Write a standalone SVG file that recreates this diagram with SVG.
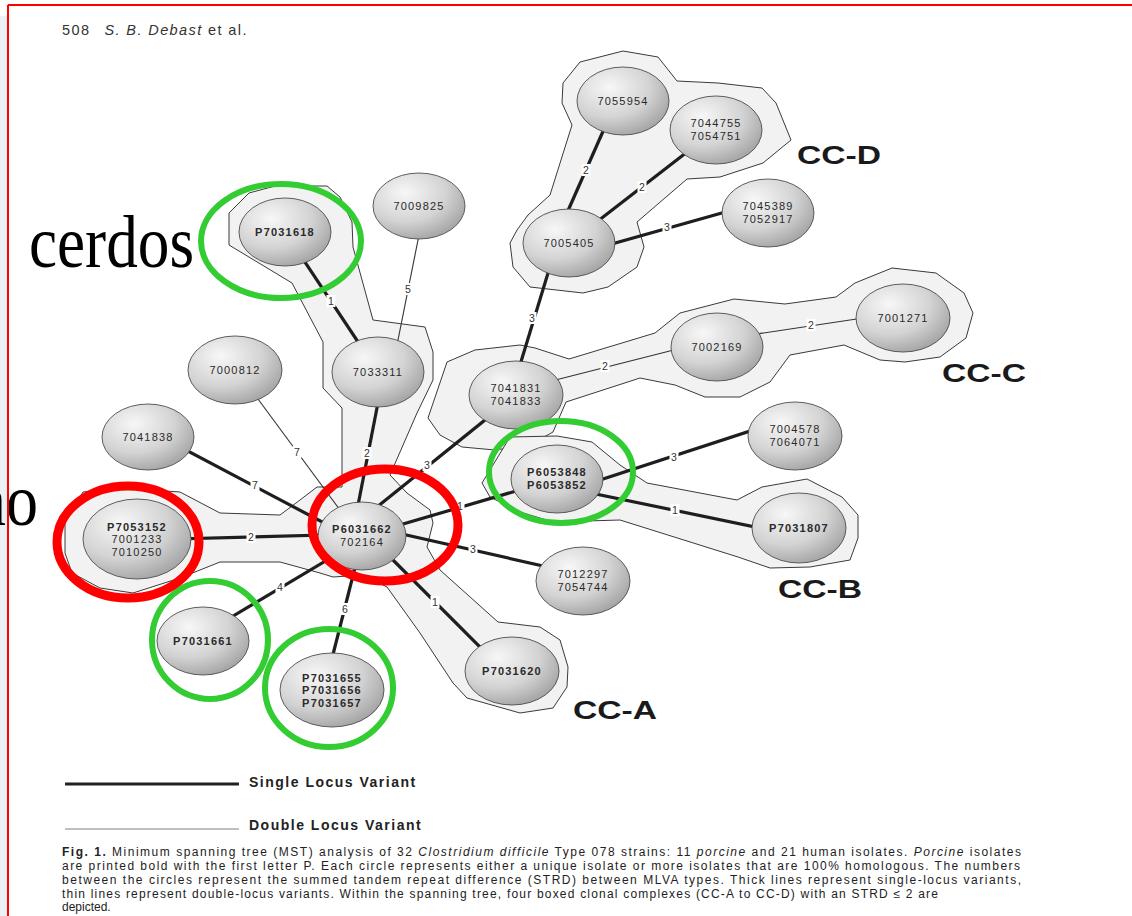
<svg xmlns="http://www.w3.org/2000/svg" width="1132" height="916" viewBox="0 0 1132 916">
<defs>
<radialGradient id="ng" cx="0.35" cy="0.3" r="0.8">
<stop offset="0" stop-color="#f7f7f7"/>
<stop offset="0.55" stop-color="#d3d3d3"/>
<stop offset="1" stop-color="#9c9c9c"/>
</radialGradient>
<style>
.hull{fill:#f2f2f2;stroke:#3a3a3a;stroke-width:1}
.thick{stroke:#1e1e1e;stroke-width:3.2;fill:none}
.thin{stroke:#333;stroke-width:1.1;fill:none}
.node ellipse{fill:url(#ng);stroke:#4d4d4d;stroke-width:0.9}
.node text{font-family:"Liberation Sans",Arial,sans-serif;font-size:11px;fill:#2a2a2a;letter-spacing:1.2px;text-anchor:middle}
.b{font-weight:bold}
.lb rect{fill:#fff}
.lb text{font-family:"Liberation Sans",Arial,sans-serif;font-size:10.5px;fill:#333;text-anchor:middle}
.cc{font-family:"Liberation Sans",Arial,sans-serif;font-size:25px;font-weight:bold;fill:#1a1a1a}
.green{fill:none;stroke:#33cc33;stroke-width:6}
.red{fill:none;stroke:#ff0000;stroke-width:9}
.cap{font-family:"Liberation Sans",Arial,sans-serif;font-size:12px;fill:#222}
.big{font-family:"Liberation Serif","Times New Roman",serif;font-size:74px;fill:#000}
</style>
</defs>
<rect width="1132" height="916" fill="#fff"/>
<rect x="0" y="16" width="8" height="900" fill="#eceff3"/>

<text x="62" y="35" font-family="Liberation Sans,Arial,sans-serif" font-size="14.5" fill="#333" letter-spacing="1.4">508<tspan dx="14" font-style="italic">S. B. Debast</tspan> et al.</text>

<g id="hulls">
<polygon id="cc-d-hull" class="hull" points="563,83 580,62 623,51 658,57 677,81 718,83 762,88 776,103 791,140 763,163 720,177 687,179 637,222 644,247 637,267 608,287 583,293 530,287 513,267 510,243 517,230 528,215 550,195 572,125 562,103"/>
<polygon id="cc-c-hull" class="hull" points="428,418 447,362 475,350 520,345 535,348 569,359 655,333 680,313 734,299 785,304 836,297 855,283 892,268 936,273 964,293 973,313 966,338 940,357 905,362 880,360 844,345 790,355 770,382 740,397 705,397 675,385 640,378 566,402 553,432 530,445 495,450 462,447 440,435"/>
<polygon id="cc-b-hull" class="hull" points="482,483 510,437 557,436 592,442 620,465 647,483 737,500 762,487 807,479 842,497 858,515 858,538 850,560 810,567 770,568 738,557 620,520 553,522 520,512 490,497"/>
<polygon id="cc-a-hull" class="hull" points="249,193 275,186 327,186 340,197 352,222 353,247 373,320 425,327 433,352 433,380 417,413 390,475 407,493 430,510 433,523 427,547 440,570 498,622 540,627 560,640 568,667 567,687 553,708 520,713 467,698 453,683 420,633 387,587 363,575 333,577 320,573 280,562 220,562 180,578 133,593 100,588 72,573 65,553 65,522 83,492 123,488 180,492 220,513 280,515 300,500 317,487 342,487 342,408 323,388 323,342 292,283 229,245 229,213"/>
</g>

<g id="connectors">
<line class="thick" x1="285" y1="232" x2="378" y2="372"/>
<line class="thin" x1="421" y1="225" x2="395" y2="355"/>
<line class="thick" x1="384" y1="372" x2="352" y2="536"/>
<line class="thin" x1="255" y1="395" x2="340" y2="510"/>
<line class="thick" x1="148" y1="430" x2="362" y2="543"/>
<line class="thick" x1="137" y1="540" x2="362" y2="534"/>
<line class="thick" x1="203" y1="634" x2="364" y2="538"/>
<line class="thick" x1="324" y1="690" x2="363" y2="536"/>
<line class="thick" x1="362" y1="529" x2="512" y2="679"/>
<line class="thick" x1="362" y1="525" x2="583" y2="575"/>
<line class="thick" x1="362" y1="536" x2="557" y2="479"/>
<line class="thick" x1="372" y1="511" x2="516" y2="395"/>
<line class="thick" x1="552" y1="260" x2="516" y2="378"/>
<line class="thin" x1="520" y1="389" x2="717" y2="339"/>
<line class="thin" x1="717" y1="340" x2="903" y2="312"/>
<line class="thick" x1="563" y1="222" x2="608" y2="120"/>
<line class="thick" x1="585" y1="231" x2="700" y2="142"/>
<line class="thick" x1="569" y1="256" x2="768" y2="200"/>
<line class="thick" x1="557" y1="494" x2="796" y2="416"/>
<line class="thick" x1="557" y1="486" x2="799" y2="536"/>
<g class="lb">
<rect x="326.5" y="295" width="9" height="12"/><text x="331" y="304.7">1</text>
<rect x="403.5" y="283" width="9" height="12"/><text x="408" y="292.7">5</text>
<rect x="362.5" y="447" width="9" height="12"/><text x="367" y="456.7">2</text>
<rect x="292.5" y="446" width="9" height="12"/><text x="297" y="455.7">7</text>
<rect x="250.5" y="479" width="9" height="12"/><text x="255" y="488.7">7</text>
<rect x="246.5" y="531" width="9" height="12"/><text x="251" y="540.7">2</text>
<rect x="275.5" y="581" width="9" height="12"/><text x="280" y="590.7">4</text>
<rect x="340.5" y="603" width="9" height="12"/><text x="345" y="612.7">6</text>
<rect x="430.5" y="596" width="9" height="12"/><text x="435" y="605.7">1</text>
<rect x="468.5" y="543" width="9" height="12"/><text x="473" y="552.7">3</text>
<rect x="455.5" y="500" width="9" height="12"/><text x="460" y="509.7">1</text>
<rect x="422.5" y="459" width="9" height="12"/><text x="427" y="468.7">3</text>
<rect x="527.5" y="312" width="9" height="12"/><text x="532" y="321.7">3</text>
<rect x="600.5" y="360" width="9" height="12"/><text x="605" y="369.7">2</text>
<rect x="806.5" y="319" width="9" height="12"/><text x="811" y="328.7">2</text>
<rect x="581.5" y="164" width="9" height="12"/><text x="586" y="173.7">2</text>
<rect x="637.5" y="181" width="9" height="12"/><text x="642" y="190.7">2</text>
<rect x="662.5" y="221" width="9" height="12"/><text x="667" y="230.7">3</text>
<rect x="669.5" y="451" width="9" height="12"/><text x="674" y="460.7">3</text>
<rect x="670.5" y="504" width="9" height="12"/><text x="675" y="513.7">1</text>
</g>
</g>

<g id="n-p7031618" class="node"><ellipse cx="285" cy="232" rx="46" ry="34"/><text class="b" x="285" y="236">P7031618</text></g>
<g id="n-7009825" class="node"><ellipse cx="419" cy="206" rx="46" ry="33"/><text x="419" y="210">7009825</text></g>
<g id="n-7033311" class="node"><ellipse cx="378" cy="372" rx="46" ry="35"/><text x="378" y="376">7033311</text></g>
<g id="n-7000812" class="node"><ellipse cx="235" cy="370" rx="47" ry="34"/><text x="235" y="374">7000812</text></g>
<g id="n-7041838" class="node"><ellipse cx="148" cy="437" rx="46" ry="33"/><text x="148" y="441">7041838</text></g>
<g id="n-p7053152" class="node"><ellipse cx="137" cy="539" rx="54" ry="40"/><text class="b" x="137" y="530.5">P7053152</text><text x="137" y="543">7001233</text><text x="137" y="555.5">7010250</text></g>
<g id="n-p6031662" class="node"><ellipse cx="362" cy="536" rx="44" ry="34"/><text class="b" x="362" y="533">P6031662</text><text x="362" y="545.5">702164</text></g>
<g id="n-p7031661" class="node"><ellipse cx="203" cy="641" rx="46" ry="34"/><text class="b" x="203" y="645">P7031661</text></g>
<g id="n-p7031655" class="node"><ellipse cx="332" cy="690" rx="52" ry="37"/><text class="b" x="332" y="681.5">P7031655</text><text class="b" x="332" y="694">P7031656</text><text class="b" x="332" y="706.5">P7031657</text></g>
<g id="n-p7031620" class="node"><ellipse cx="512" cy="671" rx="47" ry="34"/><text class="b" x="512" y="675">P7031620</text></g>
<g id="n-7012297" class="node"><ellipse cx="583" cy="581" rx="47" ry="34"/><text x="583" y="578">7012297</text><text x="583" y="590.5">7054744</text></g>
<g id="n-p6053848" class="node"><ellipse cx="557" cy="479" rx="46" ry="34"/><text class="b" x="557" y="476">P6053848</text><text class="b" x="557" y="488.5">P6053852</text></g>
<g id="n-p7031807" class="node"><ellipse cx="799" cy="528" rx="47" ry="35"/><text class="b" x="799" y="532">P7031807</text></g>
<g id="n-7004578" class="node"><ellipse cx="795" cy="436" rx="47" ry="34"/><text x="795" y="433">7004578</text><text x="795" y="445.5">7064071</text></g>
<g id="n-7041831" class="node"><ellipse cx="516" cy="395" rx="47" ry="34"/><text x="516" y="392">7041831</text><text x="516" y="404.5">7041833</text></g>
<g id="n-7002169" class="node"><ellipse cx="717" cy="347" rx="46" ry="34"/><text x="717" y="351">7002169</text></g>
<g id="n-7001271" class="node"><ellipse cx="903" cy="318" rx="47" ry="34"/><text x="903" y="322">7001271</text></g>
<g id="n-7005405" class="node"><ellipse cx="569" cy="243" rx="46" ry="34"/><text x="569" y="247">7005405</text></g>
<g id="n-7055954" class="node"><ellipse cx="623" cy="101" rx="46" ry="34"/><text x="623" y="105">7055954</text></g>
<g id="n-7044755" class="node"><ellipse cx="716" cy="130" rx="46" ry="34"/><text x="716" y="127">7044755</text><text x="716" y="139.5">7054751</text></g>
<g id="n-7045389" class="node"><ellipse cx="768" cy="213" rx="46" ry="34"/><text x="768" y="210">7045389</text><text x="768" y="222.5">7052917</text></g>

<g id="cc-labels">
<text class="cc" x="797" y="164" textLength="84" lengthAdjust="spacingAndGlyphs">CC-D</text>
<text class="cc" x="942" y="382" textLength="84" lengthAdjust="spacingAndGlyphs">CC-C</text>
<text class="cc" x="778" y="598" textLength="84" lengthAdjust="spacingAndGlyphs">CC-B</text>
<text class="cc" x="573" y="719" textLength="84" lengthAdjust="spacingAndGlyphs">CC-A</text>
</g>

<g id="legend">
<line x1="65" y1="784" x2="239" y2="784" stroke="#222" stroke-width="3"/>
<text x="249" y="787" font-family="Liberation Sans,Arial,sans-serif" font-size="14" font-weight="bold" fill="#222" letter-spacing="1.5">Single Locus Variant</text>
<line x1="65" y1="829" x2="239" y2="829" stroke="#aaa" stroke-width="1.5"/>
<text x="249" y="830" font-family="Liberation Sans,Arial,sans-serif" font-size="14" font-weight="bold" fill="#222" letter-spacing="1.5">Double Locus Variant</text>
</g>

<g id="caption" class="cap">
<text x="62" y="856" textLength="959" lengthAdjust="spacing"><tspan font-weight="bold">Fig. 1.</tspan>  Minimum spanning tree (MST) analysis of 32 <tspan font-style="italic">Clostridium difficile</tspan> Type 078 strains: 11 <tspan font-style="italic">porcine</tspan> and 21 human isolates. <tspan font-style="italic">Porcine</tspan> isolates</text>
<text x="62" y="870" textLength="958" lengthAdjust="spacing">are printed bold with the first letter P. Each circle represents either a unique isolate or more isolates that are 100% homologous. The numbers</text>
<text x="62" y="884" textLength="959" lengthAdjust="spacing">between the circles represent the summed tandem repeat difference (STRD) between MLVA types. Thick lines represent single-locus variants,</text>
<text x="62" y="898" textLength="876" lengthAdjust="spacing">thin lines represent double-locus variants. Within the spanning tree, four boxed clonal complexes (CC-A to CC-D) with an STRD ≤ 2 are</text>
<text x="62" y="911">depicted.</text>
</g>

<g id="rings">
<ellipse class="green" cx="281" cy="241" rx="80" ry="57"/>
<ellipse class="green" cx="561" cy="472" rx="72" ry="51"/>
<ellipse class="green" cx="210" cy="640" rx="58" ry="59"/>
<ellipse class="green" cx="329" cy="688" rx="64" ry="59"/>
<ellipse class="red" cx="128" cy="542" rx="71" ry="56"/>
<ellipse class="red" cx="385" cy="525" rx="73" ry="56"/>
</g>

<text class="big" x="29" y="267" textLength="165" lengthAdjust="spacingAndGlyphs">cerdos</text>
<text class="big" x="-26" y="525" textLength="64" lengthAdjust="spacingAndGlyphs">no</text>

<g id="frame">
<line x1="8" y1="5" x2="1132" y2="5" stroke="#ff0000" stroke-width="2"/>
<line x1="8" y1="5" x2="8" y2="916" stroke="#ff0000" stroke-width="2"/>
</g>
</svg>
